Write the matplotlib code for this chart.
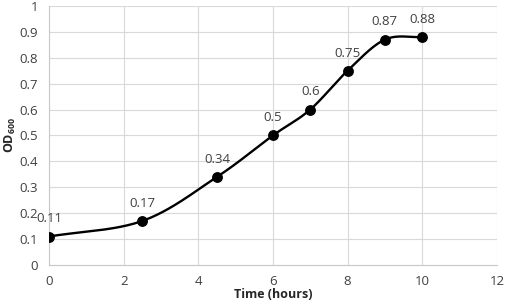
import numpy as np
import matplotlib
matplotlib.use("Agg")
import matplotlib.pyplot as plt

time_hours = [0, 2.5, 4.5, 6, 7, 8, 9, 10]
od600 = [0.11, 0.17, 0.34, 0.5, 0.6, 0.75, 0.87, 0.88]
x_ticks = [0, 2, 4, 6, 8, 10, 12]
y_ticks = [0, 0.1, 0.2, 0.3, 0.4, 0.5, 0.6, 0.7, 0.8, 0.9, 1]

plt.rcParams['font.family'] = ['Open Sans', 'DejaVu Sans']


def catmull_rom(xs, ys, n=40):
    xs = np.asarray(xs, float)
    ys = np.asarray(ys, float)
    px = np.concatenate([[2 * xs[0] - xs[1]], xs, [2 * xs[-1] - xs[-2]]])
    py = np.concatenate([[2 * ys[0] - ys[1]], ys, [2 * ys[-1] - ys[-2]]])
    ox, oy = [], []
    for i in range(1, len(px) - 2):
        t = np.linspace(0, 1, n, endpoint=False)
        for arr, out in ((px, ox), (py, oy)):
            p0, p1, p2, p3 = arr[i - 1], arr[i], arr[i + 1], arr[i + 2]
            m1 = (p2 - p0) / 2
            m2 = (p3 - p1) / 2
            h00 = 2 * t**3 - 3 * t**2 + 1
            h10 = t**3 - 2 * t**2 + t
            h01 = -2 * t**3 + 3 * t**2
            h11 = t**3 - t**2
            out.extend(h00 * p1 + h10 * m1 + h01 * p2 + h11 * m2)
    ox.append(xs[-1])
    oy.append(ys[-1])
    return np.array(ox), np.array(oy)


fig = plt.figure(figsize=(5.05, 3.02), dpi=100)
ax = fig.add_axes([0.097, 0.1225, 0.887, 0.858])

sx, sy = catmull_rom(time_hours, od600)
ax.plot(sx, sy, color='black', lw=1.7, zorder=3)
ax.plot(time_hours, od600, 'o', color='black', ms=6.8, zorder=4)

for x, y in zip(time_hours, od600):
    ax.annotate(f"{y:g}", (x, y), xytext=(0, 8), textcoords='offset points',
                ha='center', va='bottom', fontsize=9.5, color='#404040')

ax.set_xlim(0, 12)
ax.set_ylim(0, 1)
ax.set_xticks(x_ticks)
ax.set_yticks(y_ticks)
ax.set_yticklabels([f"{v:g}" for v in y_ticks])
ax.grid(True, color='#d9d9d9', lw=0.8)
ax.set_axisbelow(True)
for s in ['top', 'right']:
    ax.spines[s].set_visible(False)
for s in ['left', 'bottom']:
    ax.spines[s].set_color('#c8c8c8')
    ax.spines[s].set_linewidth(0.8)
ax.tick_params(length=0, labelsize=9.5, colors='#404040')
ax.tick_params(axis='y', pad=8)
ax.tick_params(axis='x', pad=7)
ax.set_ylabel(r"OD$_{\mathregular{600}}$", fontsize=9, fontweight='bold',
              color='#262626', va='center')
ax.yaxis.set_label_coords(-0.087, 0.5)
ax.set_xlabel("Time (hours)", fontsize=9, fontweight='bold', color='#262626', va='bottom')
ax.xaxis.set_label_coords(0.5, -0.139)

fig.savefig("out.png", dpi=100)
